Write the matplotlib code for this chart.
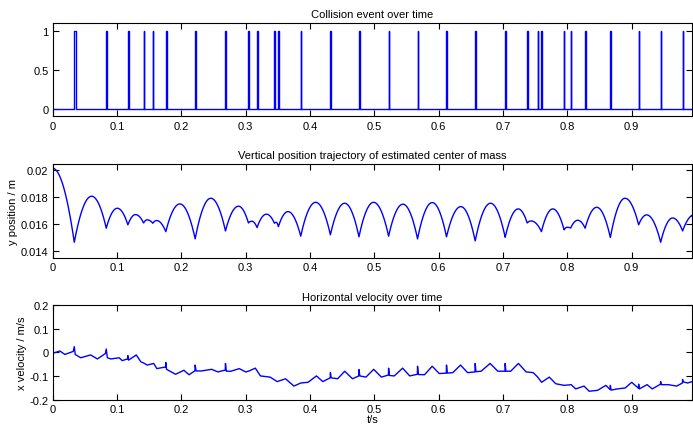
import numpy as np
import matplotlib
matplotlib.use("Agg")
import matplotlib.pyplot as plt

plt.rcParams['font.family'] = ['Liberation Sans', 'DejaVu Sans']
plt.rcParams['font.size'] = 8

# collision onsets (s) and how long the contact lasts (s)
hit_times = [0.0336, 0.0833, 0.1169, 0.1413, 0.1557, 0.1759, 0.2215, 0.2686,
             0.3043, 0.3177, 0.3447, 0.3509, 0.3856, 0.4317, 0.4761, 0.5222,
             0.5672, 0.6122, 0.6568, 0.7034, 0.7376, 0.7546, 0.7598, 0.795,
             0.8053, 0.8277, 0.8669, 0.9109, 0.9451, 0.9792]
hit_len = [0.003, 0.001, 0.001, 0.0008, 0.001, 0.0012, 0.0015, 0.0012,
           0.0008, 0.0008, 0.0006, 0.0008, 0.0012, 0.0012, 0.0012, 0.0008,
           0.0008, 0.0008, 0.0008, 0.0008, 0.0006, 0.0006, 0.0006, 0.0006,
           0.0006, 0.0006, 0.0008, 0.0006, 0.0006, 0.0006]
t_end = 0.9943

# y position: lows at the contacts, highs between them
low_t = [0.0, 0.0336, 0.0833, 0.1169, 0.1413, 0.1557, 0.1759, 0.2215, 0.2686,
         0.3043, 0.3177, 0.3447, 0.3509, 0.3856, 0.4317, 0.4761, 0.5222,
         0.5672, 0.6122, 0.6568, 0.7034, 0.7376, 0.7598, 0.795, 0.8053,
         0.8277, 0.8669, 0.9109, 0.9451, 0.9792, 0.9943]
low_y = [0.02012, 0.01464, 0.01568, 0.01593, 0.01607, 0.01605, 0.01543,
         0.01489, 0.01548, 0.01607, 0.01573, 0.01605, 0.0158, 0.01509,
         0.01519, 0.01504, 0.01509, 0.01489, 0.01504, 0.01474, 0.01501,
         0.01607, 0.01543, 0.01556, 0.0157, 0.01568, 0.01499, 0.01593,
         0.01464, 0.01548, 0.01657]
peak_t = [0.0, 0.0605, 0.1004, 0.1288, 0.1469, 0.1615, 0.1977, 0.2458, 0.2888,
          0.3095, 0.3323, 0.3475, 0.3658, 0.4088, 0.4539, 0.4989, 0.5444,
          0.59, 0.6345, 0.6806, 0.7236, 0.7438, 0.7774, 0.7995, 0.8162,
          0.8457, 0.8897, 0.9233, 0.9637, 0.998]
peak_y = [0.02012, 0.01805, 0.01716, 0.01669, 0.0163, 0.01625, 0.01748,
          0.0179, 0.01731, 0.0162, 0.01672, 0.01612, 0.01691, 0.0176, 0.01753,
          0.0176, 0.01746, 0.01758, 0.01728, 0.01753, 0.01711, 0.01622,
          0.01711, 0.01575, 0.01627, 0.01723, 0.0179, 0.01667, 0.01644, 0.0167]

# x velocity, read point by point
vel_t = [0.0, 0.0113, 0.019, 0.032, 0.0336, 0.035, 0.0436, 0.059, 0.0695, 0.082,
         0.0833, 0.085, 0.0905, 0.1035, 0.108, 0.1165, 0.1169, 0.118, 0.13,
         0.137, 0.1413, 0.147, 0.157, 0.162, 0.1755, 0.1759, 0.177, 0.191,
         0.204, 0.212, 0.2212, 0.2215, 0.223, 0.231, 0.247, 0.257, 0.2683,
         0.2686, 0.27, 0.277, 0.29, 0.3, 0.3043, 0.315, 0.323, 0.338, 0.349,
         0.362, 0.375, 0.3856, 0.397, 0.41, 0.42, 0.4314, 0.4317, 0.433,
         0.443, 0.454, 0.466, 0.4758, 0.4761, 0.4775, 0.487, 0.499, 0.511,
         0.5219, 0.5222, 0.5235, 0.531, 0.544, 0.555, 0.5669, 0.5672, 0.5685,
         0.578, 0.59, 0.601, 0.6119, 0.6122, 0.6135, 0.622, 0.634, 0.645,
         0.6565, 0.6568, 0.658, 0.666, 0.68, 0.692, 0.7031, 0.7034, 0.7045,
         0.712, 0.724, 0.736, 0.747, 0.754, 0.76, 0.772, 0.782, 0.795, 0.806,
         0.813, 0.826, 0.834, 0.847, 0.86, 0.8666, 0.8669, 0.868, 0.878,
         0.89, 0.9, 0.9106, 0.9109, 0.912, 0.924, 0.932, 0.9448, 0.9451,
         0.946, 0.957, 0.97, 0.9789, 0.9792, 0.98, 0.987, 0.9943]
vel_v = [-0.004, 0.0056, -0.009, 0.004, 0.024, -0.009, -0.023, -0.011, -0.028,
         -0.005, 0.014, -0.023, -0.028, -0.023, -0.035, -0.028, -0.014, -0.033,
         -0.011, -0.04, -0.045, -0.054, -0.047, -0.069, -0.062, -0.043, -0.072,
         -0.093, -0.076, -0.095, -0.078, -0.054, -0.079, -0.079, -0.072,
         -0.083, -0.075, -0.047, -0.08, -0.08, -0.069, -0.083, -0.08, -0.067,
         -0.1, -0.105, -0.124, -0.112, -0.143, -0.13, -0.127, -0.1, -0.124,
         -0.108, -0.086, -0.108, -0.112, -0.08, -0.112, -0.1, -0.073, -0.1,
         -0.105, -0.072, -0.105, -0.096, -0.067, -0.098, -0.1, -0.067, -0.1,
         -0.093, -0.059, -0.094, -0.095, -0.059, -0.09, -0.088, -0.054,
         -0.088, -0.086, -0.054, -0.086, -0.083, -0.047, -0.082, -0.08,
         -0.047, -0.08, -0.08, -0.047, -0.08, -0.08, -0.047, -0.083, -0.086,
         -0.105, -0.127, -0.105, -0.133, -0.14, -0.137, -0.155, -0.143,
         -0.165, -0.161, -0.14, -0.158, -0.14, -0.16, -0.155, -0.151, -0.127,
         -0.152, -0.135, -0.155, -0.137, -0.155, -0.135, -0.124, -0.137,
         -0.137, -0.143, -0.13, -0.115, -0.125, -0.13, -0.124]


def collision_signal(times, lens, t_stop):
    t = [0.0]
    c = [0.0]
    for h, d in zip(times, lens):
        t += [h, h, h + d, h + d]
        c += [0.0, 1.0, 1.0, 0.0]
    t.append(t_stop)
    c.append(0.0)
    return t, c


def hop_curve(lt, ly, pt, py):
    # half parabolas up to each high point and down to the next low
    ts, ys = [], []
    for i in range(len(pt)):
        if pt[i] > lt[i]:
            s = np.linspace(lt[i], pt[i], 30)
            a = (py[i] - ly[i]) / (pt[i] - lt[i]) ** 2
            ts.append(s)
            ys.append(py[i] - a * (s - pt[i]) ** 2)
        s = np.linspace(pt[i], lt[i + 1], 30)
        a = (py[i] - ly[i + 1]) / (lt[i + 1] - pt[i]) ** 2
        ts.append(s)
        ys.append(py[i] - a * (s - pt[i]) ** 2)
    return np.concatenate(ts), np.concatenate(ys)


fig = plt.figure(figsize=(6.93, 4.27), dpi=100)
ax1 = fig.add_axes([0.076, 0.725, 0.923, 0.219])
ax2 = fig.add_axes([0.076, 0.393, 0.923, 0.221])
ax3 = fig.add_axes([0.076, 0.062, 0.923, 0.221])

tc, cc = collision_signal(hit_times, hit_len, t_end)
ax1.plot(tc, cc, color='b', lw=1.0)
ax1.set_ylim(-0.1, 1.1)
ax1.set_yticks([0, 0.5, 1])
ax1.set_yticklabels(["0", "0.5", "1"])
ax1.set_title("Collision event over time", fontsize=8, pad=4)

th, yh = hop_curve(low_t, low_y, peak_t, peak_y)
keep = th <= t_end
ax2.plot(th[keep], yh[keep], color='b', lw=1.0)
ax2.set_ylim(0.01346, 0.02045)
ax2.set_yticks([0.014, 0.016, 0.018, 0.02])
ax2.set_yticklabels(["0.014", "0.016", "0.018", "0.02"])
ax2.set_ylabel("y position / m", fontsize=8, labelpad=2)
ax2.set_title("Vertical position trajectory of estimated center of mass", fontsize=8, pad=4)

ax3.plot(vel_t, vel_v, color='b', lw=1.0)
ax3.set_ylim(-0.2, 0.2)
ax3.set_yticks([-0.2, -0.1, 0, 0.1, 0.2])
ax3.set_yticklabels(["-0.2", "-0.1", "0", "0.1", "0.2"])
ax3.set_ylabel("x velocity / m/s", fontsize=8, labelpad=2)
ax3.set_xlabel("t/s", fontsize=8, labelpad=0)
ax3.set_title("Horizontal velocity over time", fontsize=8, pad=4)

for ax in (ax1, ax2, ax3):
    ax.set_xlim(0, t_end)
    ax.set_xticks(np.arange(0, 1.0, 0.1))
    ax.set_xticklabels(["0", "0.1", "0.2", "0.3", "0.4", "0.5", "0.6", "0.7", "0.8", "0.9"])
    ax.tick_params(direction='in', top=True, right=True, length=4, width=0.8,
                   labelsize=8, pad=3)
    for sp in ax.spines.values():
        sp.set_linewidth(0.8)

fig.savefig("out.png", dpi=100)
